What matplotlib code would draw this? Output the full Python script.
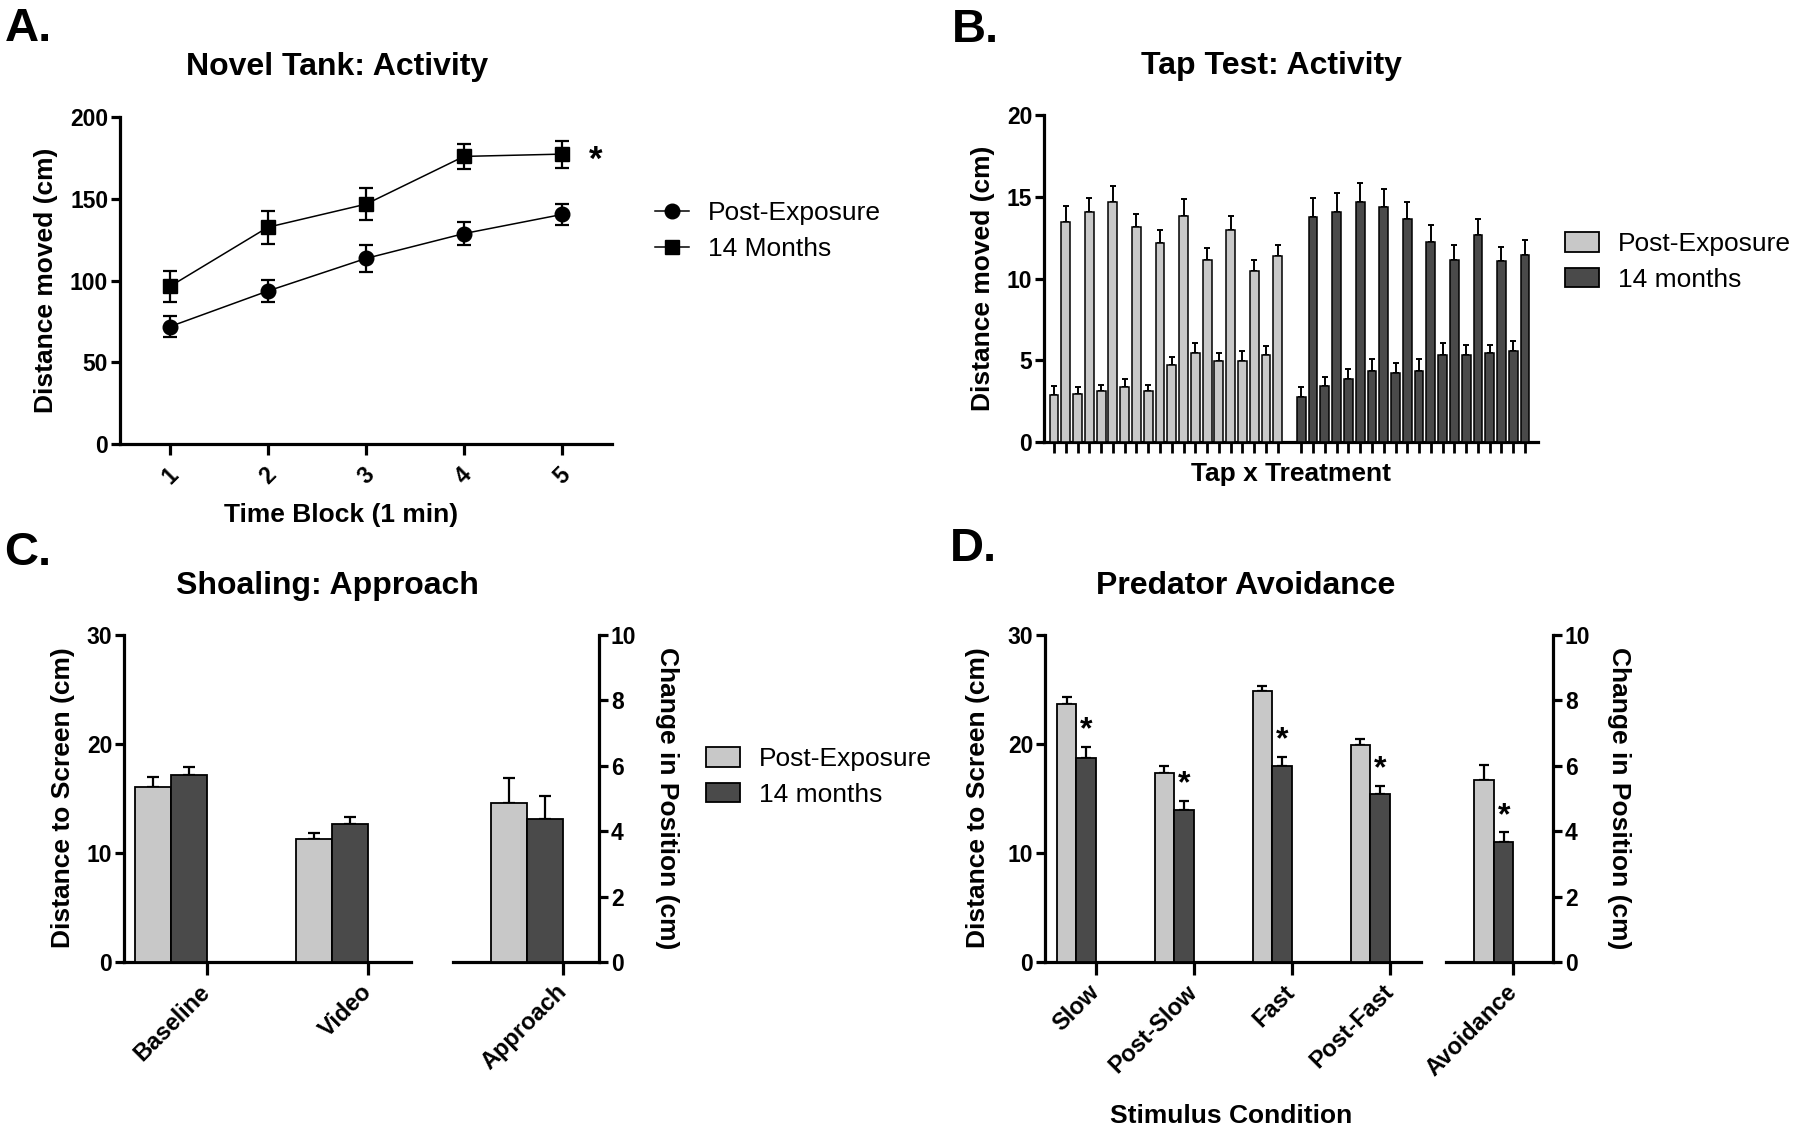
import numpy as np
import matplotlib
matplotlib.use('Agg')
import matplotlib.pyplot as plt
from matplotlib.lines import Line2D
from matplotlib.patches import Patch

plt.rcParams['font.family'] = ['Liberation Sans', 'DejaVu Sans']
plt.rcParams['font.weight'] = 'bold'

LIGHT = '#c8c8c8'
DARK = '#4a4a4a'

# ---- data ----
# A. novel tank
time_blocks = [1, 2, 3, 4, 5]
nt_post = [71.8, 93.6, 113.5, 128.7, 140.4]
nt_post_err = [6.6, 7.0, 8.0, 7.0, 6.3]
nt_14m = [96.4, 132.6, 146.7, 175.9, 177.3]
nt_14m_err = [9.3, 10.0, 10.0, 7.7, 8.2]

# B. tap test (20 taps per group)
tap_post = [2.9, 13.45, 2.95, 14.05, 3.1, 14.65, 3.35, 13.15, 3.1, 12.15,
            4.7, 13.85, 5.45, 11.15, 4.95, 12.95, 4.95, 10.45, 5.35, 11.35]
tap_post_err = [0.5, 1.0, 0.4, 0.9, 0.4, 1.0, 0.5, 0.8, 0.4, 0.8,
                0.5, 1.0, 0.6, 0.7, 0.5, 0.9, 0.6, 0.7, 0.5, 0.7]
tap_14m = [2.75, 13.75, 3.45, 14.05, 3.85, 14.65, 4.35, 14.35, 4.25, 13.65,
           4.35, 12.25, 5.35, 11.15, 5.35, 12.65, 5.45, 11.05, 5.55, 11.45]
tap_14m_err = [0.6, 1.2, 0.5, 1.2, 0.6, 1.2, 0.7, 1.1, 0.6, 1.0,
               0.7, 1.0, 0.7, 0.9, 0.6, 1.0, 0.5, 0.9, 0.6, 0.9]

# C. shoaling
shoal_cats = ['Baseline', 'Video']
shoal_post = [16.1, 11.3]
shoal_post_err = [0.9, 0.5]
shoal_14m = [17.2, 12.7]
shoal_14m_err = [0.7, 0.6]
appr_cat = ['Approach']
appr_post = [4.87]
appr_post_err = [0.76]
appr_14m = [4.37]
appr_14m_err = [0.7]

# D. predator avoidance
pred_cats = ['Slow', 'Post-Slow', 'Fast', 'Post-Fast']
pred_post = [23.7, 17.35, 24.9, 19.9]
pred_post_err = [0.6, 0.6, 0.45, 0.6]
pred_14m = [18.75, 13.9, 17.95, 15.4]
pred_14m_err = [1.0, 0.9, 0.9, 0.75]
avoid_cat = ['Avoidance']
avoid_post = [5.57]
avoid_post_err = [0.44]
avoid_14m = [3.67]
avoid_14m_err = [0.3]

W, H = 1800, 1132
fig = plt.figure(figsize=(W / 100, H / 100), dpi=100)


def box(l, r, t, b):
    return [l / W, 1 - b / H, (r - l) / W, (b - t) / H]


def style(ax, right=False):
    for s in ['top', 'right', 'left', 'bottom']:
        ax.spines[s].set_visible(False)
    ax.spines['bottom'].set_visible(True)
    ax.spines['right' if right else 'left'].set_visible(True)
    for s in ax.spines.values():
        s.set_linewidth(2.3)
    if right:
        ax.yaxis.tick_right()
    ax.tick_params(axis='y', width=2.3, length=6.5, labelsize=16.5, pad=2)
    ax.tick_params(axis='x', width=2.3, length=8, labelsize=16.5)


def ftext(x, y, s, **kw):
    fig.text(x / W, 1 - y / H, s, ha='center', va='center', **kw)


def group_bars(ax, pos, post, post_err, m14, m14_err, cap=4):
    pos = np.asarray(pos, dtype=float)
    ax.bar(pos - 0.5, post, width=1, color=LIGHT, edgecolor='k', linewidth=1.3, zorder=3)
    ax.bar(pos + 0.5, m14, width=1, color=DARK, edgecolor='k', linewidth=1.3, zorder=3)
    ax.errorbar(pos - 0.5, post, yerr=[np.zeros(len(post)), post_err], fmt='none',
                ecolor='k', elinewidth=1.6, capsize=cap, capthick=1.6, zorder=2)
    ax.errorbar(pos + 0.5, m14, yerr=[np.zeros(len(m14)), m14_err], fmt='none',
                ecolor='k', elinewidth=1.6, capsize=cap, capthick=1.6, zorder=2)


def cat_labels(ax, pos, cats):
    ax.set_xticks(np.asarray(pos) + 1)
    ax.set_xticklabels(cats, rotation=45, ha='right', va='center',
                       rotation_mode='anchor', fontsize=17)
    ax.tick_params(axis='x', length=9, pad=10)


# ---- A ----
axA = fig.add_axes(box(120, 612, 117, 444))
style(axA)
axA.errorbar(time_blocks, nt_post, yerr=nt_post_err, color='k', lw=1.1, marker='o',
             ms=10.5, capsize=5, capthick=1.6, elinewidth=1.6)
axA.errorbar(time_blocks, nt_14m, yerr=nt_14m_err, color='k', lw=1.1, marker='s',
             ms=10.5, capsize=5, capthick=1.6, elinewidth=1.6)
axA.set_xlim(0.49, 5.51)
axA.set_ylim(0, 200)
axA.set_yticks([0, 50, 100, 150, 200])
axA.set_xticks(time_blocks)
axA.set_xticklabels([str(t) for t in time_blocks], rotation=45, ha='center', va='top')
axA.tick_params(axis='x', length=8, pad=6)
axA.text(5.27, nt_14m[-1] - 4, '*', fontsize=25, ha='left', va='center')
handles = [Line2D([], [], color='k', lw=1.1, marker='o', ms=10.5),
           Line2D([], [], color='k', lw=1.1, marker='s', ms=10.5)]
fig.legend(handles, ['Post-Exposure', '14 Months'], loc='center left',
           bbox_to_anchor=(655 / W, 1 - 231 / H), frameon=False,
           prop={'size': 19, 'weight': 'normal'}, handlelength=1.3,
           handletextpad=0.7, labelspacing=0.45, borderpad=0, borderaxespad=0)
ftext(28, 29, 'A.', fontsize=34)
ftext(337, 67, 'Novel Tank: Activity', fontsize=23)
ftext(46, 280, 'Distance moved (cm)', fontsize=19, rotation=90)
ftext(341, 515, 'Time Block (1 min)', fontsize=19)

# ---- B ----
axB = fig.add_axes(box(1044, 1538, 115, 442))
style(axB)
pos_post = np.arange(len(tap_post))
pos_14m = np.arange(len(tap_14m)) + len(tap_post) + 1
axB.bar(pos_post, tap_post, width=0.75, color=LIGHT, edgecolor='k', linewidth=1.1, zorder=3)
axB.bar(pos_14m, tap_14m, width=0.75, color=DARK, edgecolor='k', linewidth=1.1, zorder=3)
axB.errorbar(pos_post, tap_post, yerr=[np.zeros(len(tap_post)), tap_post_err], fmt='none',
             ecolor='k', elinewidth=1.4, capsize=2, capthick=1.4, zorder=2)
axB.errorbar(pos_14m, tap_14m, yerr=[np.zeros(len(tap_14m)), tap_14m_err], fmt='none',
             ecolor='k', elinewidth=1.4, capsize=2, capthick=1.4, zorder=2)
axB.set_xlim(-0.85, pos_14m[-1] + 1.1)
axB.set_ylim(0, 20)
axB.set_yticks([0, 5, 10, 15, 20])
axB.set_xticks(np.concatenate([pos_post, pos_14m]))
axB.set_xticklabels([])
axB.tick_params(axis='x', length=8, width=2.0)
fig.legend([Patch(facecolor=LIGHT, edgecolor='k', lw=1.3),
            Patch(facecolor=DARK, edgecolor='k', lw=1.3)],
           ['Post-Exposure', '14 months'], loc='center left',
           bbox_to_anchor=(1565 / W, 1 - 262 / H), frameon=False,
           prop={'size': 19, 'weight': 'normal'}, handlelength=1.3, handleheight=0.75,
           handletextpad=0.7, labelspacing=0.45, borderpad=0, borderaxespad=0)
ftext(975, 30, 'B.', fontsize=34)
ftext(1271, 66, 'Tap Test: Activity', fontsize=23)
ftext(983, 278, 'Distance moved (cm)', fontsize=19, rotation=90)
ftext(1291, 474, 'Tap x Treatment', fontsize=19)

# ---- C ----
axC1 = fig.add_axes(box(124, 411, 635, 962))
style(axC1)
shoal_pos = [0, 4.5]
group_bars(axC1, shoal_pos, shoal_post, shoal_post_err, shoal_14m, shoal_14m_err)
axC1.set_xlim(-1.3, 6.7)
axC1.set_ylim(0, 30)
axC1.set_yticks([0, 10, 20, 30])
cat_labels(axC1, shoal_pos, shoal_cats)

axC2 = fig.add_axes(box(453, 599, 635, 962))
style(axC2, right=True)
group_bars(axC2, [0], appr_post, appr_post_err, appr_14m, appr_14m_err)
axC2.set_xlim(-2.05, 2.0)
axC2.set_ylim(0, 10)
axC2.set_yticks([0, 2, 4, 6, 8, 10])
cat_labels(axC2, [0], appr_cat)
fig.legend([Patch(facecolor=LIGHT, edgecolor='k', lw=1.3),
            Patch(facecolor=DARK, edgecolor='k', lw=1.3)],
           ['Post-Exposure', '14 months'], loc='center left',
           bbox_to_anchor=(706 / W, 1 - 777 / H), frameon=False,
           prop={'size': 19, 'weight': 'normal'}, handlelength=1.3, handleheight=0.75,
           handletextpad=0.7, labelspacing=0.45, borderpad=0, borderaxespad=0)
ftext(28, 553, 'C.', fontsize=34)
ftext(327, 586, 'Shoaling: Approach', fontsize=23)
ftext(63, 798, 'Distance to Screen (cm)', fontsize=19, rotation=90)
ftext(667, 798, 'Change in Position (cm)', fontsize=19, rotation=-90)

# ---- D ----
axD1 = fig.add_axes(box(1045, 1421, 635, 962))
style(axD1)
pred_pos = [0, 5, 10, 15]
group_bars(axD1, pred_pos, pred_post, pred_post_err, pred_14m, pred_14m_err, cap=3.5)
axD1.set_xlim(-1.6, 17.6)
axD1.set_ylim(0, 30)
axD1.set_yticks([0, 10, 20, 30])
cat_labels(axD1, pred_pos, pred_cats)
for p, v, e in zip(pred_pos, pred_14m, pred_14m_err):
    axD1.text(p + 0.5, v + e + 1.5, '*', fontsize=23, ha='center', va='center')

axD2 = fig.add_axes(box(1446, 1553, 635, 962))
style(axD2, right=True)
group_bars(axD2, [0], avoid_post, avoid_post_err, avoid_14m, avoid_14m_err, cap=3.5)
axD2.set_xlim(-2.46, 3.03)
axD2.set_ylim(0, 10)
axD2.set_yticks([0, 2, 4, 6, 8, 10])
cat_labels(axD2, [0], avoid_cat)
axD2.text(0.5, avoid_14m[0] + avoid_14m_err[0] + 0.5, '*', fontsize=23, ha='center', va='center')
ftext(973, 549, 'D.', fontsize=34)
ftext(1246, 586, 'Predator Avoidance', fontsize=23)
ftext(978, 798, 'Distance to Screen (cm)', fontsize=19, rotation=90)
ftext(1619, 798, 'Change in Position (cm)', fontsize=19, rotation=-90)
ftext(1231, 1116, 'Stimulus Condition', fontsize=19)

fig.savefig('out.png', dpi=100)
